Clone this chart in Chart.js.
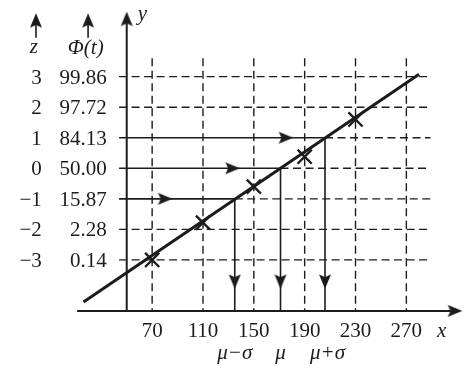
<!DOCTYPE html>
<html>
<head>
<meta charset="utf-8">
<script src="https://cdn.jsdelivr.net/npm/chart.js@4"></script>
<style>body{margin:0;background:#fff}</style>
</head>
<body>
<canvas id="chart" width="468" height="372"></canvas>
<script>
// data
const xTicks = [70, 110, 150, 190, 230, 270];
const zTicks = [3, 2, 1, 0, -1, -2, -3];
const zLabels = ['3', '2', '1', '0', '\u22121', '\u22122', '\u22123'];
const phiLabels = ['99.86', '97.72', '84.13', '50.00', '15.87', '2.28', '0.14'];
const sampleX = [70, 110, 150, 190, 230];
const sampleZ = [-3.0, -1.78, -0.6, 0.38, 1.6];
const fitX = [16, 280];
const fitZ = [-4.38, 3.08];
const readZ = [-1, 0, 1];
const readX = [135, 171, 206];
const readArrowX = [86, 139, 181];
const bottomLabels = ['\u03bc\u2212\u03c3', '\u03bc', '\u03bc+\u03c3'];
const bottomLabelX = [135, 171, 208];

const ink = '#1c1c1c';
const AXIS_X = 50, AXIS_Z = -4.67;
const GRID_TOP = 3.6, GRID_LEFT = 44, GRID_RIGHT = 289;
const ARROW_DOWN_Z = -3.95;

function line(pts, opts) {
    return Object.assign({
        data: pts.map(p => ({x: p[0], y: p[1]})),
        showLine: true,
        pointRadius: 0,
        borderColor: ink,
        borderWidth: 1.5,
        fill: false
    }, opts);
}

function makeArrow() {
    const c = document.createElement('canvas');
    c.width = 30; c.height = 30;
    const g = c.getContext('2d');
    g.fillStyle = ink;
    g.beginPath();
    g.moveTo(15, 15);
    g.lineTo(21, 29.5);
    g.lineTo(15, 26.8);
    g.lineTo(9, 29.5);
    g.closePath();
    g.fill();
    return c;
}

const dash = [8, 4.5];
const datasets = [];

// dashed grid
xTicks.forEach(v => datasets.push(line([[v, GRID_TOP], [v, AXIS_Z]], {borderDash: dash, borderWidth: 1.4})));
zTicks.forEach(z => {
    const i = readZ.indexOf(z);
    if (i < 0) {
        datasets.push(line([[GRID_LEFT, z], [GRID_RIGHT, z]], {borderDash: dash, borderWidth: 1.4}));
    } else {
        datasets.push(line([[readX[i], z], [GRID_RIGHT, z]], {borderDash: dash, borderWidth: 1.4}));
        datasets.push(line([[GRID_LEFT, z], [readX[i], z]], {borderWidth: 1.6}));
        datasets.push(line([[readX[i], z], [readX[i], AXIS_Z]], {borderWidth: 1.6}));
    }
});

// axes
datasets.push(line([[11, AXIS_Z], [310, AXIS_Z]], {borderWidth: 2}));
datasets.push(line([[AXIS_X, AXIS_Z], [AXIS_X, 4.95]], {borderWidth: 2}));
datasets.push(line([[-21.4, 4.27], [-21.4, 4.9]], {borderWidth: 1.6}));
datasets.push(line([[19.6, 4.27], [19.6, 4.9]], {borderWidth: 1.6}));

// fitted line
datasets.push(line(fitX.map((v, i) => [v, fitZ[i]]), {borderWidth: 3}));

// samples
datasets.push({
    data: sampleX.map((v, i) => ({x: v, y: sampleZ[i]})),
    showLine: false,
    pointStyle: 'crossRot',
    pointRadius: 10,
    pointBorderWidth: 2.4,
    pointBorderColor: ink,
    pointBackgroundColor: ink
});

// arrow heads
const arrowPts = [];
const arrowRot = [];
readZ.forEach((z, i) => { arrowPts.push({x: readArrowX[i], y: z}); arrowRot.push(90); });
readX.forEach(v => { arrowPts.push({x: v, y: ARROW_DOWN_Z}); arrowRot.push(180); });
arrowPts.push({x: 314, y: AXIS_Z}); arrowRot.push(90);
arrowPts.push({x: AXIS_X, y: 5.13}); arrowRot.push(0);
arrowPts.push({x: -21.4, y: 5.08}); arrowRot.push(0);
arrowPts.push({x: 19.6, y: 5.08}); arrowRot.push(0);
const arrowImg = makeArrow();
datasets.push({
    data: arrowPts,
    showLine: false,
    pointStyle: arrowImg,
    pointRadius: 6,
    pointRotation: ctx => arrowRot[ctx.dataIndex]
});

const labelsPlugin = {
    id: 'labels',
    afterDatasetsDraw(chart) {
        const {ctx, scales: {x, y}} = chart;
        const ax = x.getPixelForValue(AXIS_X);
        const ay = y.getPixelForValue(AXIS_Z);
        ctx.save();
        ctx.fillStyle = ink;
        ctx.font = '21px "Liberation Serif"';
        ctx.textAlign = 'right';
        zTicks.forEach((z, i) => {
            const py = y.getPixelForValue(z) + 7;
            ctx.fillText(zLabels[i], ax - 85, py);
            ctx.fillText(phiLabels[i], ax - 20, py);
        });
        ctx.textAlign = 'center';
        xTicks.forEach(v => ctx.fillText(String(v), x.getPixelForValue(v), ay + 26));
        ctx.font = 'italic 21px "Liberation Serif"';
        bottomLabels.forEach((t, i) => ctx.fillText(t, x.getPixelForValue(bottomLabelX[i]), ay + 48));
        ctx.fillText('x', ax + 315, ay + 26);
        ctx.fillText('z', ax - 93, 53);
        ctx.fillText('\u03a6(t)', ax - 41, 54);
        ctx.textAlign = 'left';
        ctx.fillText('y', ax + 11, 20);
        ctx.restore();
    }
};

new Chart(document.getElementById('chart'), {
    type: 'scatter',
    data: {datasets: datasets},
    options: {
        responsive: false,
        animation: false,
        layout: {padding: 0, autoPadding: false},
        clip: false,
        scales: {
            x: {type: 'linear', display: false, min: -49.7, max: 318.5},
            y: {type: 'linear', display: false, min: -6.67, max: 5.51}
        },
        plugins: {legend: {display: false}, tooltip: {enabled: false}}
    },
    plugins: [labelsPlugin]
});
</script>
</body>
</html>
